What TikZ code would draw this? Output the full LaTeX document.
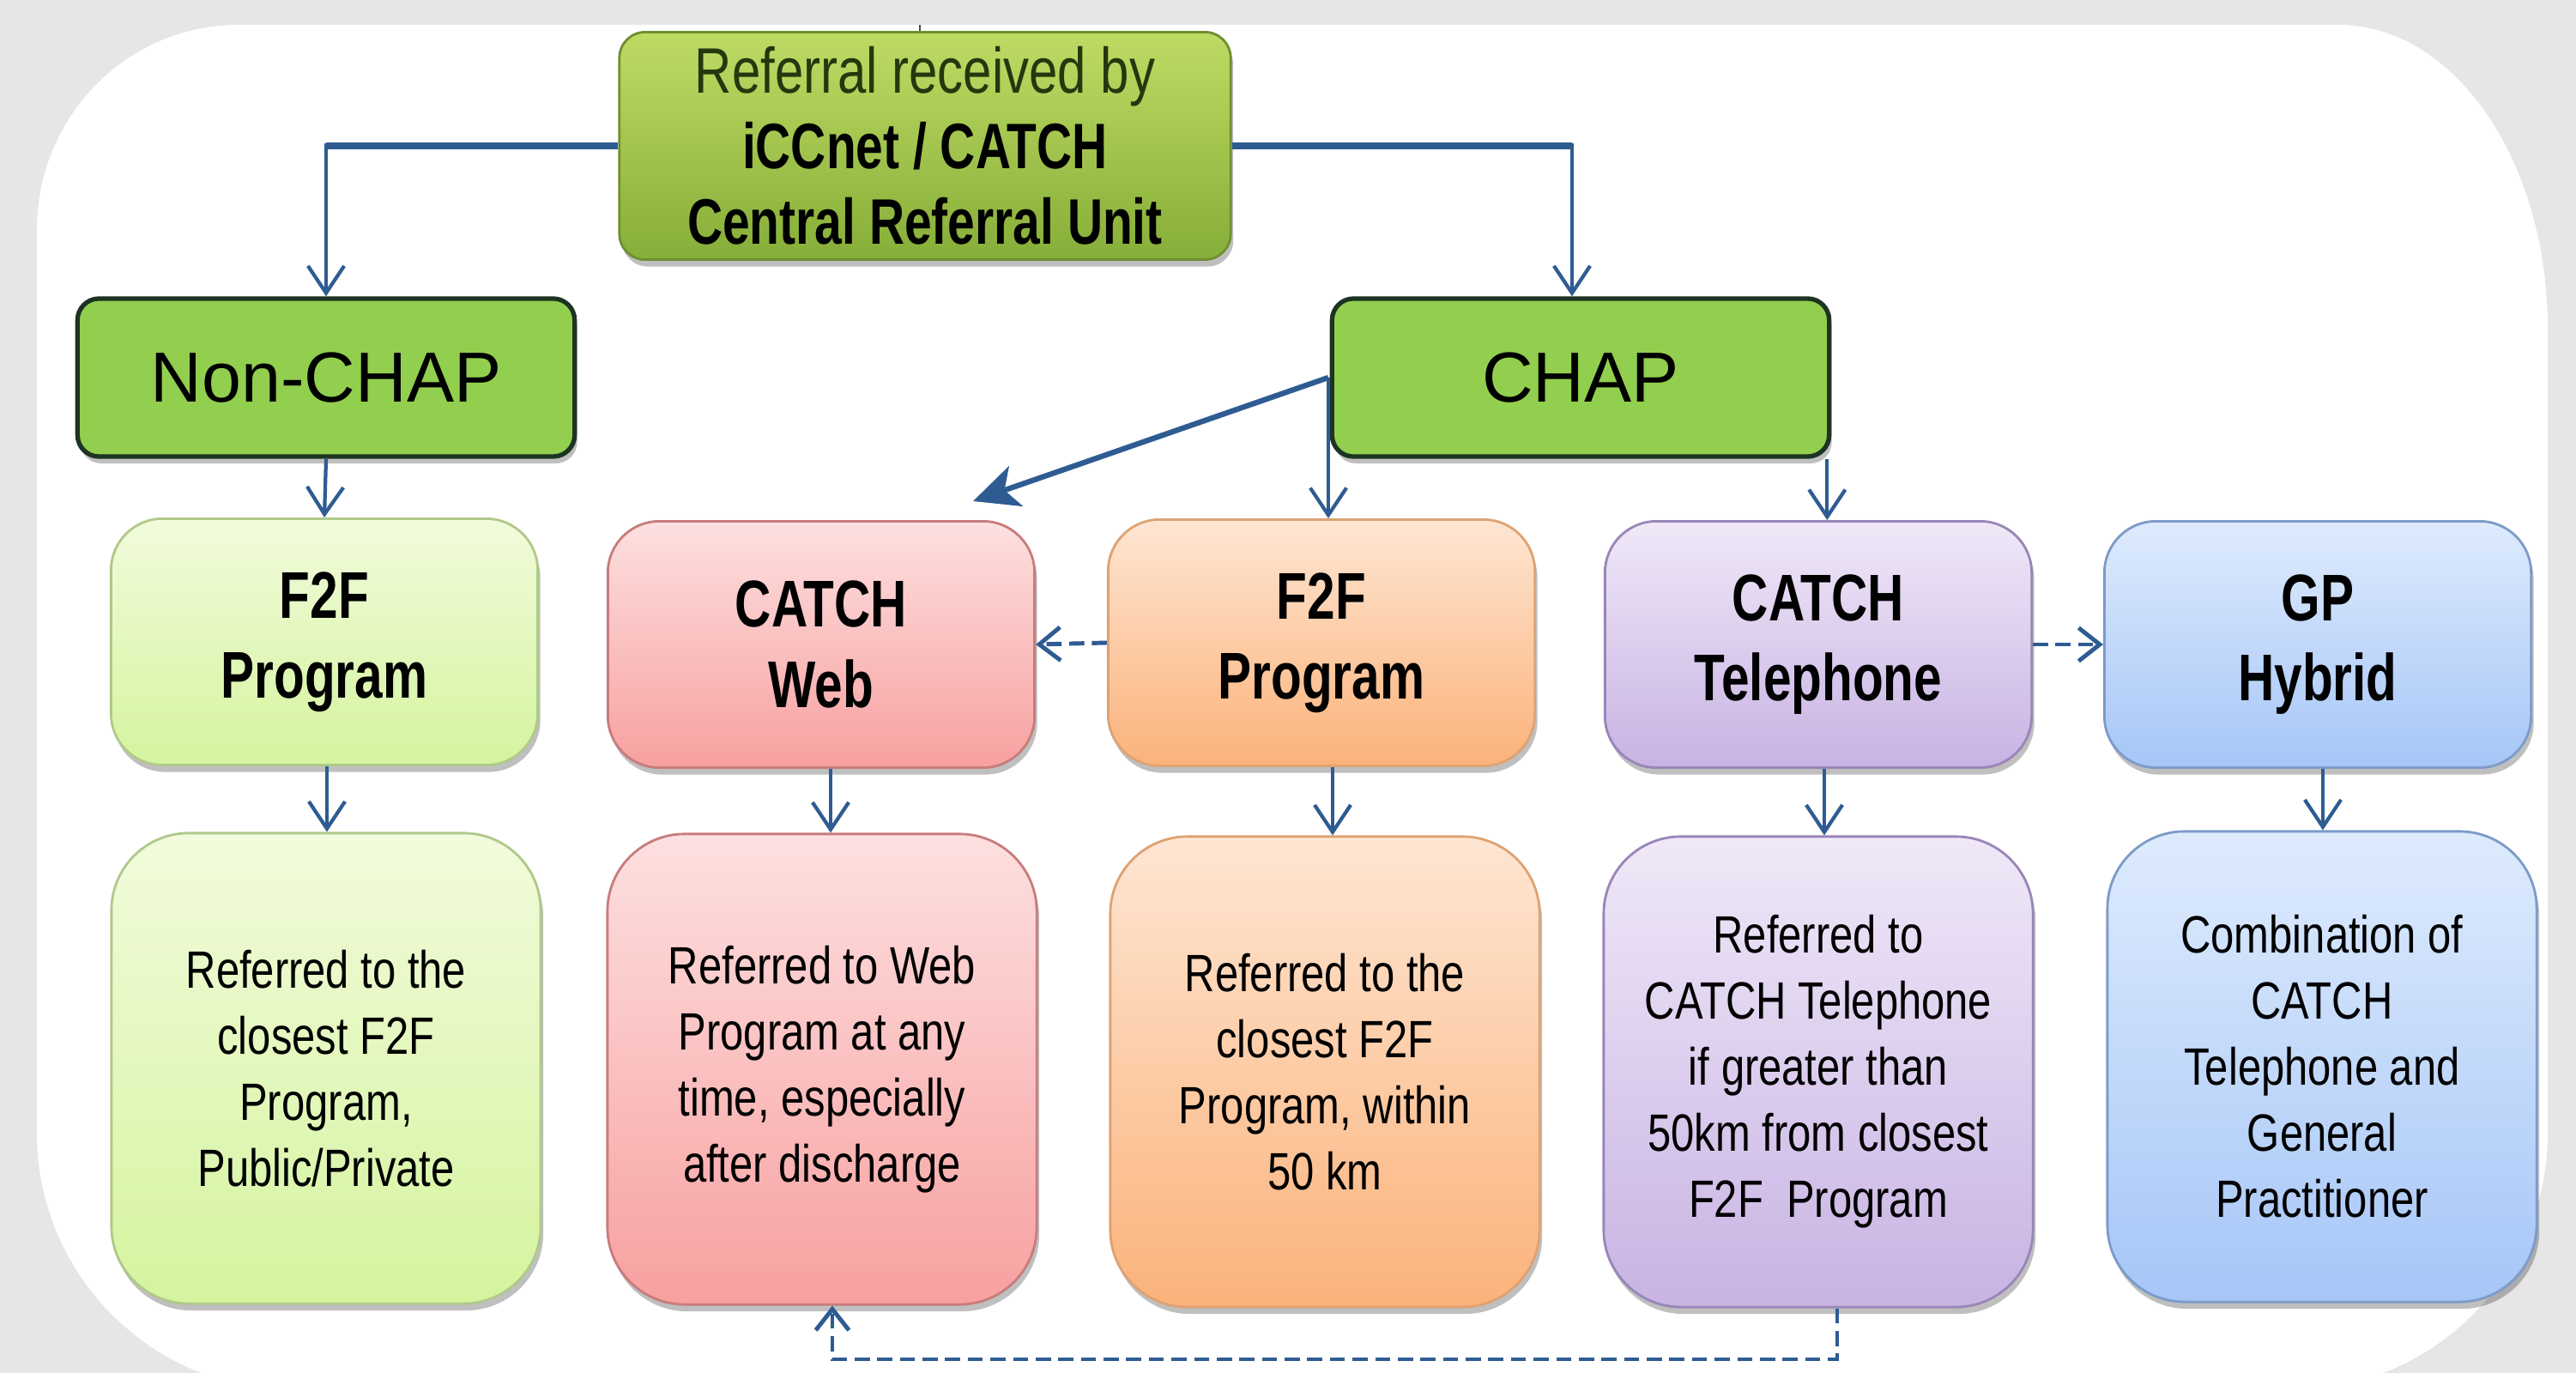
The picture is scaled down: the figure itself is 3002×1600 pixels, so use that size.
\documentclass[tikz,border=0pt]{standalone}
\usepackage{fontspec}
\setmainfont{Liberation Sans}
\newfontfamily\nreg{Liberation Sans}[FakeStretch=0.80]
\newfontfamily\nbold{Liberation Sans}[FakeStretch=0.76]
\usetikzlibrary{arrows.meta,shadows,calc}
\definecolor{bgray}{HTML}{E6E6E6}
\definecolor{arrowc}{HTML}{2E5C92}
\definecolor{topT}{HTML}{BEDB64}
\definecolor{topB}{HTML}{86AE38}
\definecolor{topD}{HTML}{6F8F30}
\definecolor{topTxt}{HTML}{24380E}
\definecolor{chapF}{HTML}{92CF4E}
\definecolor{chapD}{HTML}{1D3422}
\definecolor{gT}{HTML}{F2FBDC}
\definecolor{gB}{HTML}{D4F49E}
\definecolor{gD}{HTML}{AFC98A}
\definecolor{rT}{HTML}{FDE0E0}
\definecolor{rB}{HTML}{F8A0A0}
\definecolor{rD}{HTML}{C87C7C}
\definecolor{oT}{HTML}{FEE6D3}
\definecolor{oB}{HTML}{FBB27A}
\definecolor{oD}{HTML}{DDA374}
\definecolor{pT}{HTML}{F0E8F8}
\definecolor{pB}{HTML}{C8B3E3}
\definecolor{pD}{HTML}{9986B8}
\definecolor{bT}{HTML}{DEEBFD}
\definecolor{bB}{HTML}{A6C6F7}
\definecolor{bD}{HTML}{7C9BC8}
\tikzset{
  shad/.style={drop shadow={shadow xshift=0.03cm, shadow yshift=-0.08cm, fill=black, opacity=0.25}},
  topbox/.style={draw=topD, line width=0.8pt, rounded corners=0.3cm, top color=topT, bottom color=topB,
    minimum width=7.12cm, minimum height=2.65cm, align=center, inner sep=0pt, shad,
    font=\fontsize{21.3}{25}\selectfont},
  chapbox/.style={draw=chapD, line width=1.5pt, rounded corners=0.25cm, fill=chapF,
    minimum width=5.79cm, minimum height=1.84cm, inner sep=0pt, shad,
    font=\fontsize{23.5}{27}\selectfont},
  titlebox/.style={rounded corners=0.6cm, minimum width=4.97cm, minimum height=2.87cm, line width=0.8pt,
    inner sep=0pt, align=center, shad, font=\nbold\bfseries\fontsize{21.9}{26.5}\selectfont},
  descbox/.style={rounded corners=0.9cm, minimum width=5cm, minimum height=5.48cm, line width=0.8pt,
    inner sep=0pt, align=center, shad, font=\nreg\fontsize{17.4}{21.9}\selectfont},
  grn/.style={draw=gD, top color=gT, bottom color=gB},
  red/.style={draw=rD, top color=rT, bottom color=rB},
  org/.style={draw=oD, top color=oT, bottom color=oB},
  pur/.style={draw=pD, top color=pT, bottom color=pB},
  blu/.style={draw=bD, top color=bT, bottom color=bB},
  arr/.style={draw=arrowc, line width=1.2pt, -{Straight Barb[length=9pt,width=12pt]}},
  hline/.style={draw=arrowc, line width=2.1pt},
  diag/.style={draw=arrowc, line width=1.8pt, -{Stealth[length=15pt,width=14pt,inset=4pt]}},
  dasharr/.style={draw=arrowc, line width=1.4pt, dash pattern=on 5pt off 2.5pt, -{Straight Barb[length=7pt,width=11pt]}}
}
\begin{document}
\begin{tikzpicture}[x=0.01cm,y=-0.01cm]
\useasboundingbox (0,0) rectangle (3002,1600);
\fill[bgray] (0,0) rectangle (3002,1600);
\begin{scope}
\clip (0,0) rectangle (3002,1600);
\fill[white] (43,268) .. controls (43,136) and (148,29) .. (278,29) -- (2725,29)
  .. controls (2860,29) and (2969,187) .. (2969,383) -- (2969,1320)
  .. controls (2969,1486) and (2835,1620) .. (2669,1620) -- (343,1620)
  .. controls (177,1620) and (43,1486) .. (43,1320) -- cycle;
\end{scope}

% top node
\node[topbox] (top) at (1078,170) {{\nreg\color{topTxt}Referral received by}\\
  {\nbold\bfseries iCCnet / CATCH}\\
  {\nbold\bfseries Central Referral Unit}};
\coordinate (tick) at (1072,29);
\draw[line width=0.6pt, black!70] (tick) -- (tick |- top.north);

\node[chapbox] (nonchap) at (380,440) {Non-CHAP};
\node[chapbox] (chap) at (1842,440) {CHAP};

% row 2
\node[titlebox,grn] (g2) at (378,748) {F2F\\Program};
\node[titlebox,red] (r2) at (957,751) {CATCH\\Web};
\node[titlebox,org] (o2) at (1540,749) {F2F\\Program};
\node[titlebox,pur] (p2) at (2119,751) {CATCH\\Telephone};
\node[titlebox,blu] (b2) at (2701,751) {GP\\Hybrid};

% row 3
\node[descbox,grn] (g3) at (380,1245) {Referred to the\\closest F2F\\Program,\\Public/Private};
\node[descbox,red] (r3) at (958,1246) {Referred to Web\\Program at any\\time, especially\\after discharge};
\node[descbox,org] (o3) at (1544,1249) {Referred to the\\closest F2F\\Program, within\\50 km};
\node[descbox,pur] (p3) at (2119,1249) {Referred to\\CATCH Telephone\\if greater than\\50km from closest\\F2F\ \ Program};
\node[descbox,blu] (b3) at (2706,1243) {Combination of\\CATCH\\Telephone and\\General\\Practitioner};

% top connectors
\draw[hline] (top.west) -- (top.west -| nonchap.north);
\draw[arr] ([yshift=0.03cm]top.west -| nonchap.north) -- (nonchap.north);
\coordinate (chapin) at ($(chap.north)+(-10,0)$);
\draw[hline] (top.east) -- (top.east -| chapin);
\draw[arr] ([yshift=0.03cm]top.east -| chapin) -- (chapin);

% from Non-CHAP / CHAP
\draw[arr] (nonchap.south) -- (g2.north);
\coordinate (chapL) at (1548,440);
\coordinate (webin) at (1134,584);
\draw[diag] (chapL) -- (webin);
\draw[arr] (chapL) -- (chapL |- o2.north);
\coordinate (chapR) at ($(chap.south east)+(-5,0)$);
\draw[arr] (chapR) -- (chapR |- p2.north);

% dashed sideways
\draw[dasharr] (o2.west) -- (r2.east);
\draw[dasharr] (p2.east) -- (b2.west);

% row 2 -> row 3
\coordinate (xg) at (381,0);
\coordinate (xr) at (968,0);
\coordinate (xo) at (1553,0);
\coordinate (xp) at (2126,0);
\coordinate (xb) at (2707,0);
\draw[arr] (g2.south -| xg) -- (g3.north -| xg);
\draw[arr] (r2.south -| xr) -- (r3.north -| xr);
\draw[arr] (o2.south -| xo) -- (o3.north -| xo);
\draw[arr] (p2.south -| xp) -- (p3.north -| xp);
\draw[arr] (b2.south -| xb) -- (b3.north -| xb);

% return dashed
\coordinate (xret) at (2141,0);
\coordinate (ybot) at (0,1584);
\coordinate (xwr) at (970,0);
\draw[dasharr] (p3.south -| xret) -- (xret |- ybot) -| (r3.south -| xwr);
\end{tikzpicture}
\end{document}
